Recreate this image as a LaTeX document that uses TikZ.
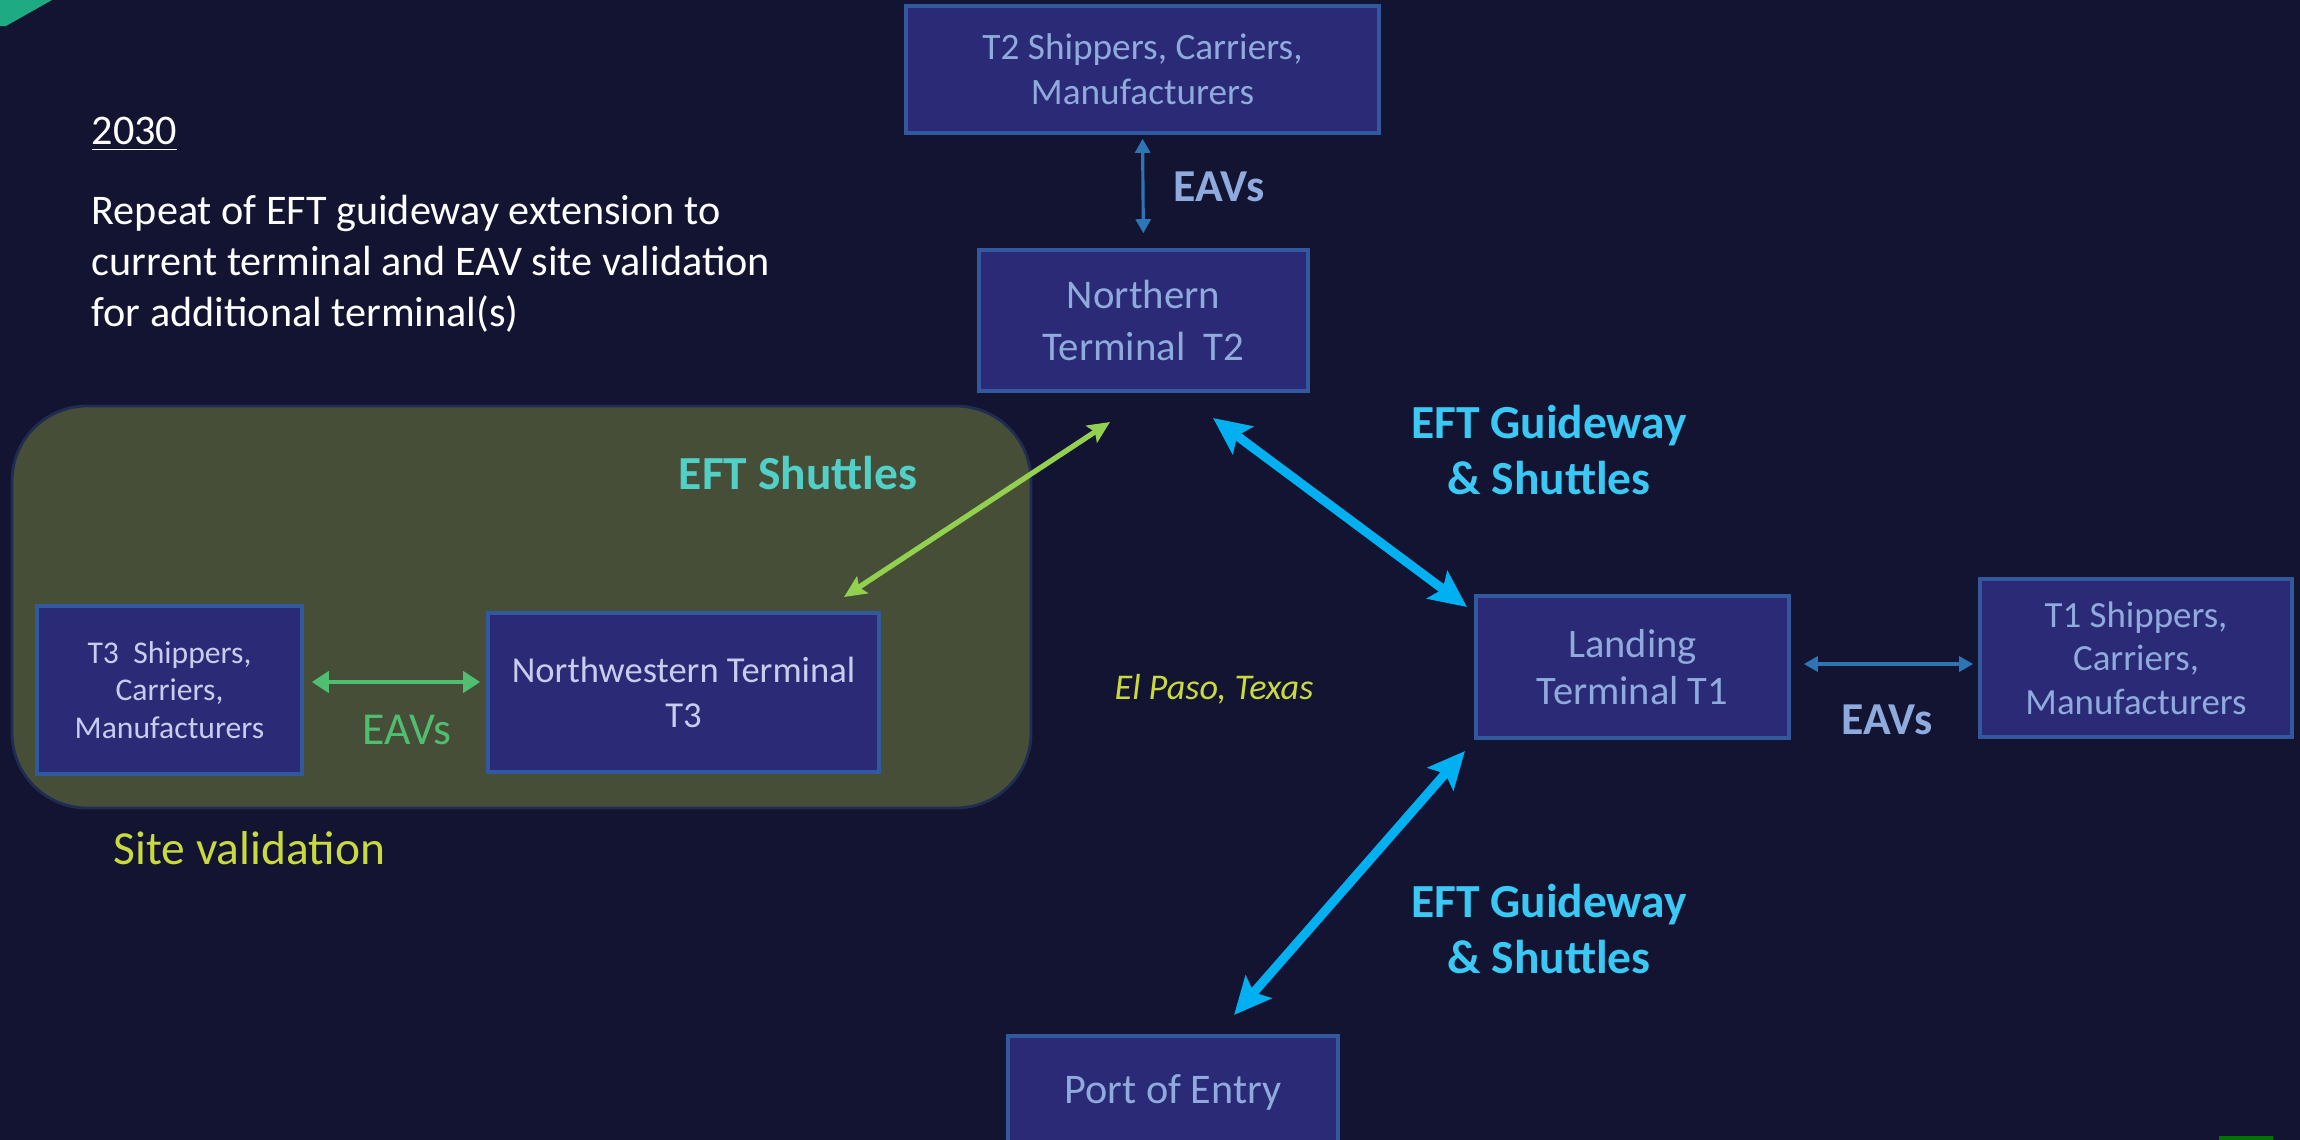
\documentclass[tikz,border=0pt]{standalone}
\usepackage{fontspec}
\setmainfont{Carlito}
\usetikzlibrary{arrows.meta}

\definecolor{bgcol}{RGB}{19,20,50}
\definecolor{boxfill}{RGB}{43,42,118}
\definecolor{boxline}{RGB}{50,88,158}
\definecolor{boxtext}{RGB}{143,170,220}
\definecolor{lighttext}{RGB}{200,204,238}
\definecolor{sitefill}{RGB}{70,78,56}
\definecolor{siteline}{RGB}{32,44,82}
\definecolor{cyanarr}{RGB}{0,176,240}
\definecolor{cyantext}{RGB}{58,200,245}
\definecolor{tealtext}{RGB}{80,208,198}
\definecolor{eavblue}{RGB}{46,117,182}
\definecolor{eavgreen}{RGB}{80,190,112}
\definecolor{limegreen}{RGB}{146,208,80}
\definecolor{yellowgreen}{RGB}{200,218,60}
\definecolor{cornergreen}{RGB}{30,170,130}

\begin{document}
\begin{tikzpicture}[x=0.01cm,y=-0.01cm,
	term/.style = {draw=boxline,fill=boxfill,line width=1pt,inner sep=0pt,align=center,text=boxtext},
	lbl/.style = {inner sep=0pt,align=center},
	guide/.style = {cyanarr,line width=2.6pt,<->,>={Stealth[length=0.37cm,width=0.34cm,inset=0.07cm]}},
	eavline/.style = {eavblue,line width=0.9pt,<->,>={Triangle[length=0.14cm,width=0.15cm]}}]

	\useasboundingbox (0,0) rectangle (2300,1139);
	\fill[bgcol] (-20,-20) rectangle (2320,1160);
	\fill[cornergreen] (-5,-5) -- (52,-5) -- (52,0) -- (6,26) -- (-5,26) -- cycle;
	\fill[green!45!black] (2219,1136) rectangle (2273,1145);

	\node[lbl,anchor=west,text=white,font=\fontsize{12pt}{14.5pt}\selectfont] (year) at (91,134) {\underline{2030}};
	\node[lbl,anchor=west,align=left,text=white,font=\fontsize{12pt}{14.5pt}\selectfont] (intro) at (91,264)
		{Repeat of EFT guideway extension to\\current terminal and EAV site validation\\for additional terminal(s)};

	\draw[fill=sitefill,draw=siteline,line width=0.8pt,rounded corners=0.75cm] (12,406) rectangle (1031,808);
	\node[lbl,anchor=west,text=yellowgreen,font=\fontsize{13.5pt}{16pt}\selectfont] (site) at (113,848) {Site validation};

	\node[term,minimum width=4.73cm,minimum height=1.27cm,font=\fontsize{10.6pt}{12.8pt}\selectfont] (t2ship) at (1142.5,69.5) {T2 Shippers, Carriers,\\Manufacturers};
	\node[term,minimum width=3.29cm,minimum height=1.41cm,font=\fontsize{11.6pt}{14.6pt}\selectfont] (north) at (1143.5,320.5) {Northern\\Terminal~~T2};
	\node[term,minimum width=3.13cm,minimum height=1.42cm,font=\fontsize{11.5pt}{13.4pt}\selectfont] (land) at (1632.5,667) {Landing\\Terminal T1};
	\node[term,minimum width=3.12cm,minimum height=1.58cm,font=\fontsize{10.5pt}{12.4pt}\selectfont] (t1ship) at (2136,658) {T1 Shippers,\\Carriers,\\Manufacturers};
	\node[term,minimum width=3.30cm,minimum height=1.12cm,font=\fontsize{12pt}{14pt}\selectfont] (port) at (1173,1092) {Port of Entry};
	\node[term,text=lighttext,minimum width=2.65cm,minimum height=1.68cm,font=\fontsize{9pt}{10.6pt}\selectfont] (t3ship) at (169.5,690) {T3~~Shippers,\\Carriers,\\Manufacturers};
	\node[term,text=lighttext,minimum width=3.91cm,minimum height=1.59cm,font=\fontsize{10.4pt}{12.8pt}\selectfont] (nwterm) at (683.5,692.5) {Northwestern Terminal\\T3};

	\draw[eavline,shorten <=0.04cm,shorten >=0.15cm] (t2ship.south) -- (north.north);
	\node[lbl,text=boxtext,font=\bfseries\fontsize{13pt}{15pt}\selectfont] (eav2) at (1219,187) {EAVs};

	\draw[eavline,shorten <=0.13cm,shorten >=0.05cm] ([yshift=0.03cm]land.east) -- ([yshift=0.03cm]land.east -| t1ship.west);
	\node[lbl,text=boxtext,font=\bfseries\fontsize{13pt}{15pt}\selectfont] (eav1) at (1887,720) {EAVs};

	\draw[eavgreen,line width=1.2pt,<->,>={Triangle[length=0.17cm,width=0.21cm]},shorten <=0.08cm,shorten >=0.06cm]
		([yshift=0.08cm]t3ship.east) -- ([yshift=0.08cm]t3ship.east -| nwterm.west);
	\node[lbl,text=eavgreen,font=\fontsize{13pt}{15pt}\selectfont] (eav3) at (407,730) {EAVs};

	\coordinate (sh1) at (844,597);
	\coordinate (sh2) at (1110,422);
	\draw[limegreen,line width=1.5pt,<->,>={Stealth[length=0.22cm,width=0.2cm,inset=0.04cm]}] (sh1) -- (sh2);
	\node[lbl,text=tealtext,font=\bfseries\fontsize{13.5pt}{16pt}\selectfont] (shut) at (798,473) {EFT Shuttles};

	\coordinate (g1) at (1213,418);
	\coordinate (g2) at (1467,607);
	\coordinate (g3) at (1234,1015);
	\coordinate (g4) at (1465,751);
	\draw[guide] (g1) -- (g2);
	\draw[guide] (g3) -- (g4);
	\node[lbl,text=cyantext,font=\bfseries\fontsize{13.5pt}{16pt}\selectfont] (gw1) at (1549,450) {EFT Guideway\\\& Shuttles};
	\node[lbl,text=cyantext,font=\bfseries\fontsize{13.5pt}{16pt}\selectfont] (gw2) at (1549,929) {EFT Guideway\\\& Shuttles};

	\node[lbl,text=yellowgreen,font=\itshape\fontsize{10.3pt}{12pt}\selectfont] (city) at (1214,689) {El Paso, Texas};

\end{tikzpicture}
\end{document}
